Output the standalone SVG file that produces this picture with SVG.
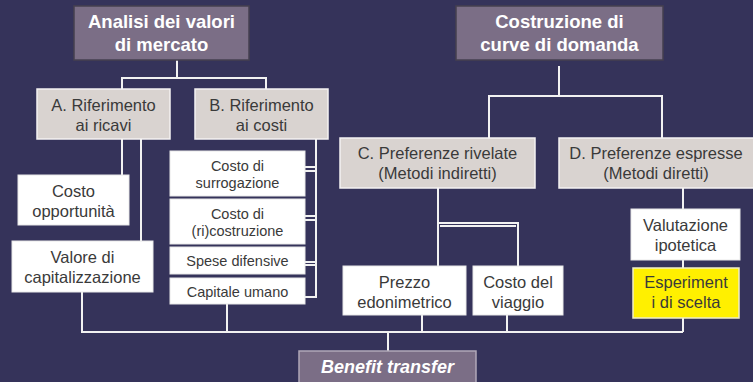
<svg xmlns="http://www.w3.org/2000/svg" width="753" height="382" viewBox="0 0 753 382">
<style>
.bg{fill:#35335a}
.dark{fill:#7b6e86;stroke:#45404f;stroke-width:1.5}
.light{fill:#d9d3d0;stroke:#f4f2f2;stroke-width:1.5}
.white{fill:#ffffff;stroke:#e8e8e8;stroke-width:1}
.yellow{fill:#fff000;stroke:#f0eec8;stroke-width:1.5}
.ttl{font-family:"Liberation Sans",Arial,sans-serif;font-weight:bold;font-size:18.5px;fill:#ffffff;text-anchor:middle}
.t{font-family:"Liberation Sans",Arial,sans-serif;font-size:16.5px;fill:#3a3a3a;text-anchor:middle}
.s{font-family:"Liberation Sans",Arial,sans-serif;font-size:14.5px;fill:#3a3a3a;text-anchor:middle}
.bt{font-family:"Liberation Sans",Arial,sans-serif;font-weight:bold;font-style:italic;font-size:18px;fill:#ffffff;text-anchor:middle}
#connectors path{fill:none;stroke:#f2f2f2;stroke-width:2}
</style>
<rect class="bg" x="0" y="0" width="753" height="382"/>
<g id="connectors">
<path d="M177 60V78M122 89V78H266V89"/>
<path d="M122 139V175M141 139V241"/>
<path d="M316 139V297H305M305 167H316M305 171H316M305 216H316M305 220H316M305 262H316M305 265H316"/>
<path d="M559 66V96M489 138V96H662V138"/>
<path d="M438 188V266M438 223H518V266M440 226H516"/>
<path d="M683 188V332"/>
<path d="M82 292V332H683M227 304V332M422 315V332M507 315V332M388 332V351"/>
</g>
<g id="analisi"><rect class="dark" x="74" y="6" width="175" height="54"/><text class="ttl" x="161.5" y="28">Analisi dei valori</text><text class="ttl" x="161.5" y="51">di mercato</text></g>
<g id="costruzione"><rect class="dark" x="456" y="6" width="207" height="54"/><text class="ttl" x="559.5" y="28">Costruzione di</text><text class="ttl" x="559.5" y="51">curve di domanda</text></g>
<g id="ricavi"><rect class="light" x="37" y="89" width="133" height="50"/><text class="t" x="103.5" y="111">A. Riferimento</text><text class="t" x="103.5" y="131">ai ricavi</text></g>
<g id="costi"><rect class="light" x="195" y="89" width="133" height="50"/><text class="t" x="261.5" y="111">B. Riferimento</text><text class="t" x="261.5" y="131">ai costi</text></g>
<g id="opportunita"><rect class="white" x="18" y="175" width="111" height="50"/><text class="t" x="73.5" y="197">Costo</text><text class="t" x="73.5" y="217">opportunità</text></g>
<g id="capitalizzazione"><rect class="white" x="12" y="241" width="141" height="51"/><text class="t" x="82.5" y="263">Valore di</text><text class="t" x="82.5" y="283">capitalizzazione</text></g>
<g id="surrogazione"><rect class="white" x="170" y="151" width="135" height="45"/><text class="s" x="237.5" y="171">Costo di</text><text class="s" x="237.5" y="187.5">surrogazione</text></g>
<g id="ricostruzione"><rect class="white" x="170" y="199" width="135" height="45"/><text class="s" x="237.5" y="219">Costo di</text><text class="s" x="237.5" y="235.5">(ri)costruzione</text></g>
<g id="difensive"><rect class="white" x="170" y="247" width="135" height="27"/><text class="s" x="237.5" y="266">Spese difensive</text></g>
<g id="umano"><rect class="white" x="170" y="278" width="135" height="26"/><text class="s" x="237.5" y="296.5">Capitale umano</text></g>
<g id="rivelate"><rect class="light" x="340" y="138" width="195" height="50"/><text class="t" x="437.5" y="159">C. Preferenze rivelate</text><text class="t" x="437.5" y="179">(Metodi indiretti)</text></g>
<g id="espresse"><rect class="light" x="559" y="138" width="200" height="50"/><text class="t" x="656" y="159">D. Preferenze espresse</text><text class="t" x="656" y="179">(Metodi diretti)</text></g>
<g id="edonimetrico"><rect class="white" x="343" y="266" width="123" height="49"/><text class="t" x="404.5" y="288">Prezzo</text><text class="t" x="404.5" y="308">edonimetrico</text></g>
<g id="viaggio"><rect class="white" x="473" y="266" width="90" height="49"/><text class="t" x="518" y="288">Costo del</text><text class="t" x="518" y="308">viaggio</text></g>
<g id="valutazione"><rect class="white" x="631" y="209" width="109" height="51"/><text class="t" x="685.5" y="231">Valutazione</text><text class="t" x="685.5" y="251">ipotetica</text></g>
<g id="esperimenti"><rect class="yellow" x="633" y="268" width="106" height="50"/><text class="t" x="686" y="288">Esperiment</text><text class="t" x="686" y="308">i di scelta</text></g>
<g id="benefit"><rect class="dark" x="299" y="351" width="177" height="40" style="stroke:#b0a8b8"/><text class="bt" x="387.5" y="373">Benefit transfer</text></g>
</svg>
